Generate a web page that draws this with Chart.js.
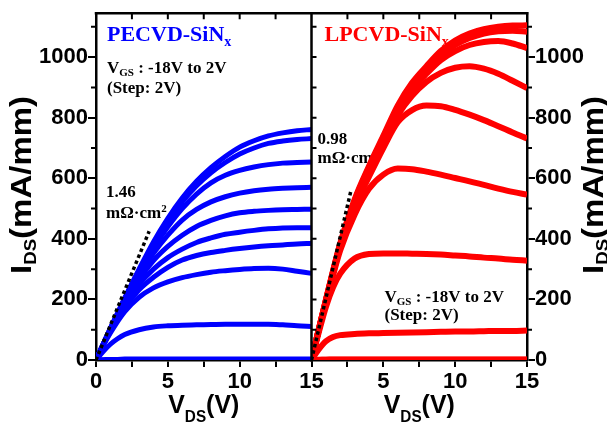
<!DOCTYPE html>
<html>
<head>
<meta charset="utf-8">
<script src="https://cdn.jsdelivr.net/npm/chart.js@4.4.1/dist/chart.umd.min.js"></script>
<style>
html,body{margin:0;padding:0;background:#fff;}
#wrap{width:607px;height:429px;position:relative;}
</style>
</head>
<body>
<div id="wrap"><canvas id="c" width="607" height="429"></canvas></div>
<script>
// ---------- data ----------
const vds = [0, 0.5, 1, 1.5, 2, 3, 4, 5, 6, 7, 8, 9, 10, 11, 12, 13, 14, 15];
const vgsLabels = ['2V', '0V', '-2V', '-4V', '-6V', '-8V', '-10V', '-12V', '-14V', '-16V', '-18V'];

// PECVD-SiNx, I_DS (mA/mm)
const pe_p2  = [0, 53, 105, 155, 205, 300, 390, 468, 535, 590, 635, 672, 703, 724, 740, 750, 757, 761];
const pe_0   = [0, 53, 104, 153, 202, 295, 382, 458, 522, 575, 618, 652, 680, 700, 715, 723, 728, 731];
const pe_m2  = [0, 52, 103, 151, 199, 288, 370, 440, 500, 548, 585, 610, 626, 637, 645, 650, 652, 654];
const pe_m4  = [0, 52, 101, 148, 194, 278, 352, 412, 462, 497, 522, 539, 551, 559, 564, 567, 569, 570];
const pe_m6  = [0, 51, 99, 145, 188, 265, 328, 375, 412, 441, 461, 476, 486, 491, 494, 496, 497, 498];
const pe_m8  = [0, 50, 97, 141, 182, 250, 300, 338, 366, 388, 403, 415, 422, 428, 433, 436, 437, 437];
const pe_m10 = [0, 49, 94, 136, 174, 232, 273, 306, 330, 345, 355, 362, 368, 373, 377, 380, 383, 385];
const pe_m12 = [0, 47, 89, 127, 160, 207, 238, 258, 272, 282, 290, 295, 299, 302, 303, 300, 293, 286];
const pe_m14 = [0, 28, 52, 70, 84, 100, 109, 113, 115, 116, 117, 118, 118, 118, 118, 116, 113, 111];
const pe_m16 = [0, 1, 2, 2, 3, 3, 3, 3, 3, 3, 3, 3, 3, 3, 3, 3, 3, 3];
const pe_m18 = [0, 0, 1, 1, 1, 1, 1, 1, 1, 1, 1, 1, 1, 1, 1, 1, 1, 1];

// LPCVD-SiNx, I_DS (mA/mm)
const lp_p2  = [0, 100, 198, 295, 385, 530, 640, 740, 840, 915, 970, 1020, 1055, 1078, 1092, 1100, 1104, 1105];
const lp_0   = [0, 100, 197, 293, 382, 525, 635, 735, 833, 905, 958, 1005, 1040, 1063, 1078, 1085, 1087, 1084];
const lp_m2  = [0, 99, 196, 291, 380, 520, 628, 727, 823, 893, 945, 990, 1020, 1040, 1050, 1053, 1045, 1030];
const lp_m4  = [0, 99, 195, 289, 377, 515, 620, 717, 808, 872, 918, 948, 965, 970, 962, 945, 922, 898];
const lp_m6  = [0, 98, 193, 286, 372, 505, 605, 700, 785, 825, 840, 838, 826, 810, 792, 772, 751, 731];
const lp_m8  = [0, 97, 190, 280, 362, 480, 565, 612, 632, 630, 622, 612, 601, 590, 578, 566, 555, 546];
const lp_m10 = [0, 90, 175, 240, 285, 335, 350, 352, 352, 351, 350, 348, 345, 342, 338, 335, 331, 328];
const lp_m12 = [0, 35, 62, 76, 82, 86, 88, 89, 90, 91, 92, 93, 94, 94, 95, 96, 96, 97];
const lp_m14 = [0, 1, 1, 2, 2, 2, 2, 2, 2, 2, 2, 2, 2, 2, 2, 2, 2, 2];
const lp_m16 = [0, 0, 1, 1, 1, 1, 1, 1, 1, 1, 1, 1, 1, 1, 1, 1, 1, 1];
const lp_m18 = [0, 0, 0, 0, 0, 0, 0, 0, 0, 0, 0, 0, 0, 0, 0, 0, 0, 0];

// on-resistance fit lines (dotted)
const fitPeV = [0, 3.7];
const fitPeI = [0, 425];
const fitLpV = [0, 2.75];
const fitLpI = [0, 560];

// axis ranges and ticks
const xMin = 0, xMax = 15, xStep = 2.5, xLabelEvery = 5;
const yMin = 0, yMax = 1145, yMajor = 200, yMinor = 100;

const peSeries = [pe_p2, pe_0, pe_m2, pe_m4, pe_m6, pe_m8, pe_m10, pe_m12, pe_m14, pe_m16, pe_m18];
const lpSeries = [lp_p2, lp_0, lp_m2, lp_m4, lp_m6, lp_m8, lp_m10, lp_m12, lp_m14, lp_m16, lp_m18];

// ---------- styles ----------
const BLUE = '#0000ff';
const RED = '#ff0000';
const SANS = "'Liberation Sans', Arial, sans-serif";
const SERIF = "'Liberation Serif', 'Times New Roman', serif";

const datasets = [];
peSeries.forEach((arr, k) => datasets.push({
  label: 'PECVD VGS=' + vgsLabels[k],
  data: arr.map((y, i) => ({x: vds[i], y})),
  xAxisID: 'x1', yAxisID: 'y',
  borderColor: BLUE, borderWidth: 5, pointRadius: 0, fill: false,
  cubicInterpolationMode: 'monotone'
}));
lpSeries.forEach((arr, k) => datasets.push({
  label: 'LPCVD VGS=' + vgsLabels[k],
  data: arr.map((y, i) => ({x: vds[i], y})),
  xAxisID: 'x2', yAxisID: 'y',
  borderColor: RED, borderWidth: 6, pointRadius: 0, fill: false,
  cubicInterpolationMode: 'monotone'
}));
datasets.push({
  label: 'PECVD Ron fit',
  data: fitPeV.map((x, i) => ({x, y: fitPeI[i]})),
  xAxisID: 'x1', yAxisID: 'y', order: -1,
  borderColor: '#000', borderWidth: 3.5, borderDash: [3.5, 3], pointRadius: 0, tension: 0
});
datasets.push({
  label: 'LPCVD Ron fit',
  data: fitLpV.map((x, i) => ({x, y: fitLpI[i]})),
  xAxisID: 'x2', yAxisID: 'y', order: -1,
  borderColor: '#000', borderWidth: 3.5, borderDash: [3.5, 3], pointRadius: 0, tension: 0
});

function xAxis(hideZero) {
  return {
    type: 'linear', position: 'bottom', stack: 'vds', stackWeight: 1,
    min: xMin, max: xMax,
    ticks: {
      stepSize: xStep, autoSkip: false, maxRotation: 0, includeBounds: false,
      color: '#000', padding: 2,
      font: {family: SANS, weight: 'bold', size: 22},
      callback: v => (v % xLabelEvery === 0 && !(hideZero && v === 0)) ? String(v) : ''
    },
    grid: {drawOnChartArea: false, drawTicks: true, tickLength: 7, lineWidth: 2, color: '#000'},
    border: {display: true, width: 2.5, color: '#000'},
    afterFit: s => { s.height = 69; }
  };
}
function yAxis(pos) {
  return {
    type: 'linear', position: pos, min: yMin, max: yMax,
    ticks: {
      stepSize: yMajor, autoSkip: false, includeBounds: false,
      color: '#000', padding: 0,
      font: {family: SANS, weight: 'bold', size: 22},
      callback: v => String(v)
    },
    grid: {drawOnChartArea: false, drawTicks: true, tickLength: 8, lineWidth: 2, color: '#000'},
    border: {display: true, width: 2.5, color: '#000'},
    afterFit: s => { s.width = (pos === 'left') ? 96 : 80; }
  };
}

function drawParts(ctx, parts, x, y, opts) {
  opts = opts || {};
  ctx.save();
  ctx.textBaseline = 'alphabetic';
  const widths = parts.map(p => { ctx.font = p.f; return ctx.measureText(p.t).width + (p.gap || 0); });
  const W = widths.reduce((a, b) => a + b, 0);
  ctx.translate(x, y);
  if (opts.rot) ctx.rotate(opts.rot);
  const sx = opts.width ? opts.width / W : 1;
  ctx.scale(sx, 1);
  let cx = opts.align === 'center' ? -W / 2 : 0;
  parts.forEach((p, i) => {
    ctx.font = p.f;
    ctx.fillStyle = p.c || opts.color || '#000';
    ctx.fillText(p.t, cx, p.dy || 0);
    cx += widths[i];
  });
  ctx.restore();
}

const sf = (s) => 'bold ' + s + 'px ' + SERIF;
const ss = (s) => 'bold ' + s + 'px ' + SANS;

const framePlugin = {
  id: 'frame',
  beforeDatasetsDraw(chart) {
    const ctx = chart.ctx;
    const a = chart.chartArea;
    const x1 = chart.scales.x1, x2 = chart.scales.x2;
    // panel titles
    drawParts(ctx, [{t: 'PECVD-SiN', f: sf(22)}, {t: 'x', f: sf(14), dy: 4.5}], x1.left + 11, a.top + 28, {color: BLUE});
    drawParts(ctx, [{t: 'LPCVD-SiN', f: sf(22)}, {t: 'x', f: sf(14), dy: 4.5}], x2.left + 13, a.top + 28, {color: RED});
    // bias conditions
    const vgs = [{t: 'V', f: sf(17)}, {t: 'GS', f: sf(11), dy: 2.5}, {t: ' : -18V to 2V', f: sf(17)}];
    const step = [{t: '(Step: 2V)', f: sf(17)}];
    drawParts(ctx, vgs, x1.left + 11, a.top + 60);
    drawParts(ctx, step, x1.left + 11, a.top + 80);
    drawParts(ctx, vgs, x2.left + 73, a.top + 289);
    drawParts(ctx, step, x2.left + 73, a.top + 307);
    // on-resistance labels
    const unit = [{t: 'm\u03A9\u00B7cm', f: sf(17)}, {t: '2', f: sf(11), dy: -6}];
    drawParts(ctx, [{t: '1.46', f: sf(17)}], x1.left + 10, a.top + 184);
    drawParts(ctx, unit, x1.left + 10, a.top + 205);
    drawParts(ctx, [{t: '0.98', f: sf(17)}], x2.left + 6, a.top + 131);
    drawParts(ctx, unit, x2.left + 6, a.top + 150);
  },
  afterDatasetsDraw(chart) {
    const ctx = chart.ctx;
    const a = chart.chartArea;
    const x1 = chart.scales.x1, x2 = chart.scales.x2, y = chart.scales.y;
    ctx.save();
    ctx.strokeStyle = '#000';
    ctx.lineWidth = 2.5;
    // top border and panel divider
    ctx.beginPath();
    ctx.moveTo(a.left - 1.25, a.top); ctx.lineTo(a.right + 1.25, a.top);
    ctx.moveTo(x1.right, a.top); ctx.lineTo(x1.right, a.bottom);
    ctx.stroke();
    ctx.lineWidth = 2;
    ctx.beginPath();
    // inward ticks on the top edge
    [x1, x2].forEach(sc => {
      for (let v = xMin + xStep; v < xMax; v += xStep) {
        const px = sc.getPixelForValue(v);
        ctx.moveTo(px, a.top); ctx.lineTo(px, a.top + 6);
      }
    });
    // inward ticks on the divider (into the right panel)
    for (let v = yMinor; v < yMax; v += yMinor) {
      const py = y.getPixelForValue(v);
      ctx.moveTo(x1.right, py); ctx.lineTo(x1.right + 5, py);
    }
    // short outward minor ticks on the outer y axes
    for (let v = yMinor; v < yMax; v += yMajor) {
      const py = y.getPixelForValue(v);
      ctx.moveTo(a.left, py); ctx.lineTo(a.left - 5, py);
      ctx.moveTo(a.right, py); ctx.lineTo(a.right + 5, py);
    }
    ctx.stroke();
    ctx.restore();
  },
  afterDraw(chart) {
    const ctx = chart.ctx;
    const x1 = chart.scales.x1, x2 = chart.scales.x2;
    // x titles
    const vt = [{t: 'V', f: ss(26)}, {t: 'DS', f: ss(16), dy: 9}, {t: '(V)', f: ss(26)}];
    drawParts(ctx, vt, (x1.left + x1.right) / 2, 413, {align: 'center', width: 71});
    drawParts(ctx, vt, (x2.left + x2.right) / 2, 413, {align: 'center', width: 71});
    // y titles (rotated)
    const it = [{t: 'I', f: ss(30)}, {t: 'DS', f: ss(17), dy: 5}, {t: '(mA/mm)', f: ss(30)}];
    drawParts(ctx, it, 31, 185, {align: 'center', rot: -Math.PI / 2, width: 178});
    drawParts(ctx, it, 603, 185, {align: 'center', rot: -Math.PI / 2, width: 178});
  }
};

new Chart(document.getElementById('c').getContext('2d'), {
  type: 'line',
  data: {datasets},
  options: {
    responsive: false,
    animation: false,
    devicePixelRatio: 1,
    layout: {padding: {top: 5, left: 0, right: 0, bottom: 0}},
    plugins: {legend: {display: false}, tooltip: {enabled: false}},
    elements: {point: {radius: 0}},
    scales: {
      x1: xAxis(false),
      x2: xAxis(true),
      y: yAxis('left'),
      yR: yAxis('right')
    }
  },
  plugins: [framePlugin]
});
</script>
</body>
</html>
